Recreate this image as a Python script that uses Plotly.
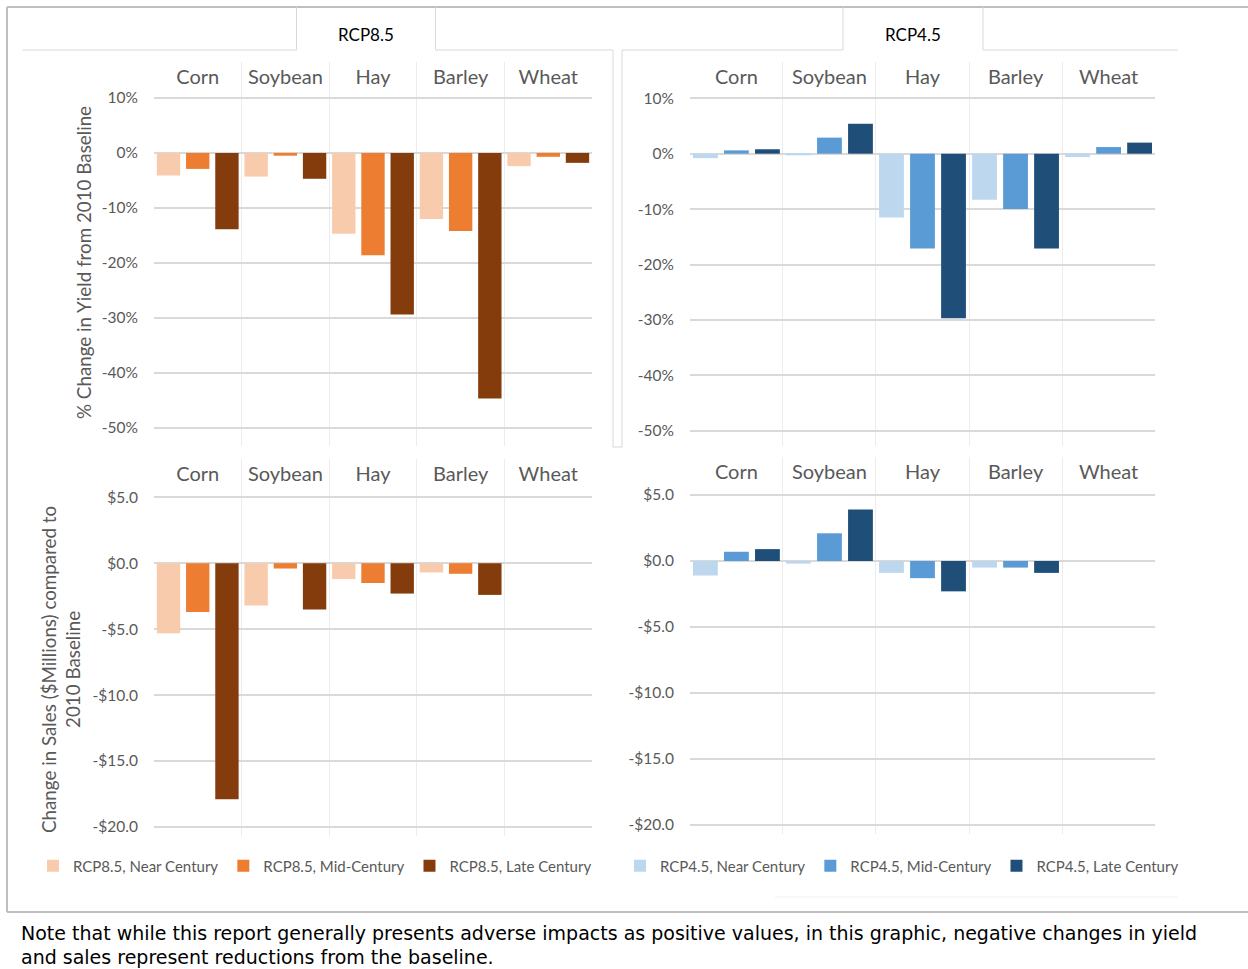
import plotly.graph_objects as go

# ---- data -------------------------------------------------------------
crops = ["Corn", "Soybean", "Hay", "Barley", "Wheat"]

# % change in yield from 2010 baseline
yield_85_near = [-4.1, -4.3, -14.7, -12.0, -2.4]
yield_85_mid = [-2.9, -0.5, -18.6, -14.2, -0.7]
yield_85_late = [-13.9, -4.7, -29.4, -44.7, -1.8]
yield_45_near = [-0.8, -0.3, -11.5, -8.3, -0.6]
yield_45_mid = [0.6, 2.9, -17.1, -10.0, 1.2]
yield_45_late = [0.8, 5.4, -29.7, -17.1, 2.0]

# change in sales ($ millions) compared to 2010 baseline
sales_85_near = [-5.3, -3.2, -1.2, -0.7, None]
sales_85_mid = [-3.7, -0.4, -1.5, -0.8, None]
sales_85_late = [-17.9, -3.5, -2.3, -2.4, None]
sales_45_near = [-1.1, -0.2, -0.9, -0.5, None]
sales_45_mid = [0.7, 2.1, -1.3, -0.5, None]
sales_45_late = [0.9, 3.9, -2.3, -0.9, None]

series_85 = ["RCP8.5, Near Century", "RCP8.5, Mid-Century", "RCP8.5, Late Century"]
series_45 = ["RCP4.5, Near Century", "RCP4.5, Mid-Century", "RCP4.5, Late Century"]

yield_ticks = [-50, -40, -30, -20, -10, 0, 10]
yield_ticktext = ["-50%", "-40%", "-30%", "-20%", "-10%", "0%", "10%"]
sales_ticks = [-20, -15, -10, -5, 0, 5]
sales_ticktext = ["-$20.0", "-$15.0", "-$10.0", "-$5.0", "$0.0", "$5.0"]

note_lines = [
    "Note that while this report generally presents adverse impacts as positive values, in this graphic, negative changes in yield",
    "and sales represent reductions from the baseline.",
]

# ---- styling ----------------------------------------------------------
W, H = 1248, 969
colors_85 = ["#F8CBAD", "#ED7D31", "#843C0C"]
colors_45 = ["#BDD7EE", "#5B9BD5", "#1F4E79"]
FONT = "Lato"
GRAY_TXT = "#595959"
GRID = "#d9d9d9"
SEP = "#ececec"
FRAME = "#bfbfbf"
TAB = "#d9d9d9"


def px(x):
    return x / W


def py(y):
    return 1 - y / H


def span(v_hi, y_hi, v_lo, y_lo, top, bottom):
    """Axis range whose values v_hi/v_lo land on pixel rows y_hi/y_lo
    when the domain runs from pixel row top to bottom."""
    k = (v_hi - v_lo) / (y_lo - y_hi)
    return [v_lo - (bottom - y_lo) * k, v_hi + (y_hi - top) * k]


# panel geometry in pixels
panels = {
    "tl": dict(x0=154, x1=592, top=62, bottom=446, rng=span(10, 98, -50, 427.7, 62, 446)),
    "tr": dict(x0=690, x1=1155, top=62, bottom=446, rng=span(10, 98.3, -50, 430.7, 62, 446)),
    "bl": dict(x0=154, x1=592, top=459, bottom=836, rng=span(5, 497.3, -20, 827, 459, 836)),
    "br": dict(x0=690, x1=1155, top=457, bottom=834, rng=span(5, 495, -20, 825, 457, 834)),
}
axis_ids = {"tl": ("x", "y"), "tr": ("x2", "y2"), "bl": ("x3", "y3"), "br": ("x4", "y4")}

fig = go.Figure()

panel_data = [
    ("tl", [yield_85_near, yield_85_mid, yield_85_late], series_85, colors_85, "legend", True),
    ("tr", [yield_45_near, yield_45_mid, yield_45_late], series_45, colors_45, "legend2", True),
    ("bl", [sales_85_near, sales_85_mid, sales_85_late], series_85, colors_85, "legend", False),
    ("br", [sales_45_near, sales_45_mid, sales_45_late], series_45, colors_45, "legend2", False),
]

for key, values, names, cols, leg, show in panel_data:
    xa, ya = axis_ids[key]
    for vals, name, col in zip(values, names, cols):
        fig.add_trace(go.Bar(
            x=crops, y=vals, name=name, legendgroup=name, showlegend=show,
            legend=leg, marker=dict(color=col, line=dict(width=0)),
            xaxis=xa, yaxis=ya,
        ))

layout_axes = {}
for key, p in panels.items():
    xa, ya = axis_ids[key]
    xname = "xaxis" if xa == "x" else "xaxis" + xa[1:]
    yname = "yaxis" if ya == "y" else "yaxis" + ya[1:]
    is_yield = key in ("tl", "tr")
    layout_axes[xname] = dict(
        domain=[px(p["x0"]), px(p["x1"])],
        anchor=ya, type="category", categoryarray=crops, categoryorder="array",
        range=[-0.499, 4.499], side="top", ticklabelposition="inside",
        ticklabelstandoff=5,
        tickson="boundaries", ticks="", showgrid=True, gridcolor=SEP, gridwidth=1,
        showline=False, zeroline=False,
        tickfont=dict(family=FONT, size=20, color=GRAY_TXT), fixedrange=True,
    )
    layout_axes[yname] = dict(
        domain=[py(p["bottom"]), py(p["top"])],
        anchor=xa, range=p["rng"],
        tickmode="array",
        tickvals=yield_ticks if is_yield else sales_ticks,
        ticktext=yield_ticktext if is_yield else sales_ticktext,
        showgrid=True, gridcolor=GRID, gridwidth=1.6, zeroline=False,
        showline=False, ticks="", ticklabelstandoff=15,
        tickfont=dict(family=FONT, size=15.5, color=GRAY_TXT), fixedrange=True,
    )

# frame, tabs and panel borders
shapes = []


def hline(x0, x1, y, color, w):
    shapes.append(dict(type="line", xref="paper", yref="paper",
                       x0=px(x0), x1=px(x1), y0=py(y), y1=py(y),
                       line=dict(color=color, width=w)))


def vline(x, y0, y1, color, w):
    shapes.append(dict(type="line", xref="paper", yref="paper",
                       x0=px(x), x1=px(x), y0=py(y0), y1=py(y1),
                       line=dict(color=color, width=w)))


hline(7, W, 7, FRAME, 2)
vline(7, 7, 912, FRAME, 2)
hline(7, W, 912, FRAME, 2)
# RCP8.5 tab
vline(296.5, 7, 50, TAB, 1)
vline(435.5, 7, 50, TAB, 1)
hline(22.5, 296.5, 50, TAB, 1)
hline(435.5, 613, 50, TAB, 1)
# RCP4.5 tab
vline(843, 7, 50, TAB, 1)
vline(983, 7, 50, TAB, 1)
hline(622, 843, 50, TAB, 1)
hline(983, 1178, 50, TAB, 1)
# divider between the two scenario panels
vline(613, 50, 447, TAB, 1)
vline(622, 50, 447, TAB, 1)
hline(613, 622, 447, TAB, 1)
hline(775, 1178, 897, "#f0f0f0", 1)


def label(text, x, y, size, color, angle=0, family=FONT, xanchor="center"):
    return dict(text=text, x=px(x), y=py(y), xref="paper", yref="paper",
                xanchor=xanchor, yanchor="middle", showarrow=False,
                textangle=angle, font=dict(family=family, size=size, color=color))


annotations = [
    label("RCP8.5", 366, 34, 17, "#000000"),
    label("RCP4.5", 913, 34, 17, "#000000"),
    label("% Change in Yield from 2010 Baseline", 83, 263, 18.8, GRAY_TXT, -90),
    label("Change in Sales ($Millions) compared to<br>2010 Baseline", 60, 670, 18.8,
          GRAY_TXT, -90),
]
for i, line in enumerate(note_lines):
    annotations.append(label(line, 19, 933 + 24 * i, 19, "#000000",
                             family="DejaVu Sans", xanchor="left"))

legend_style = dict(orientation="h", xref="paper", yref="paper",
                    yanchor="middle", xanchor="left", bgcolor="rgba(0,0,0,0)",
                    itemwidth=30, traceorder="normal",
                    font=dict(family=FONT, size=15, color=GRAY_TXT))

fig.update_layout(
    width=W, height=H, margin=dict(l=0, r=0, t=0, b=0),
    paper_bgcolor="white", plot_bgcolor="white",
    barmode="group", bargap=0.0, bargroupgap=0.2,
    shapes=shapes, annotations=annotations,
    legend=dict(x=px(33), y=py(866), **legend_style),
    legend2=dict(x=px(620), y=py(866), **legend_style),
    **layout_axes,
)

fig.write_html("out.html")
